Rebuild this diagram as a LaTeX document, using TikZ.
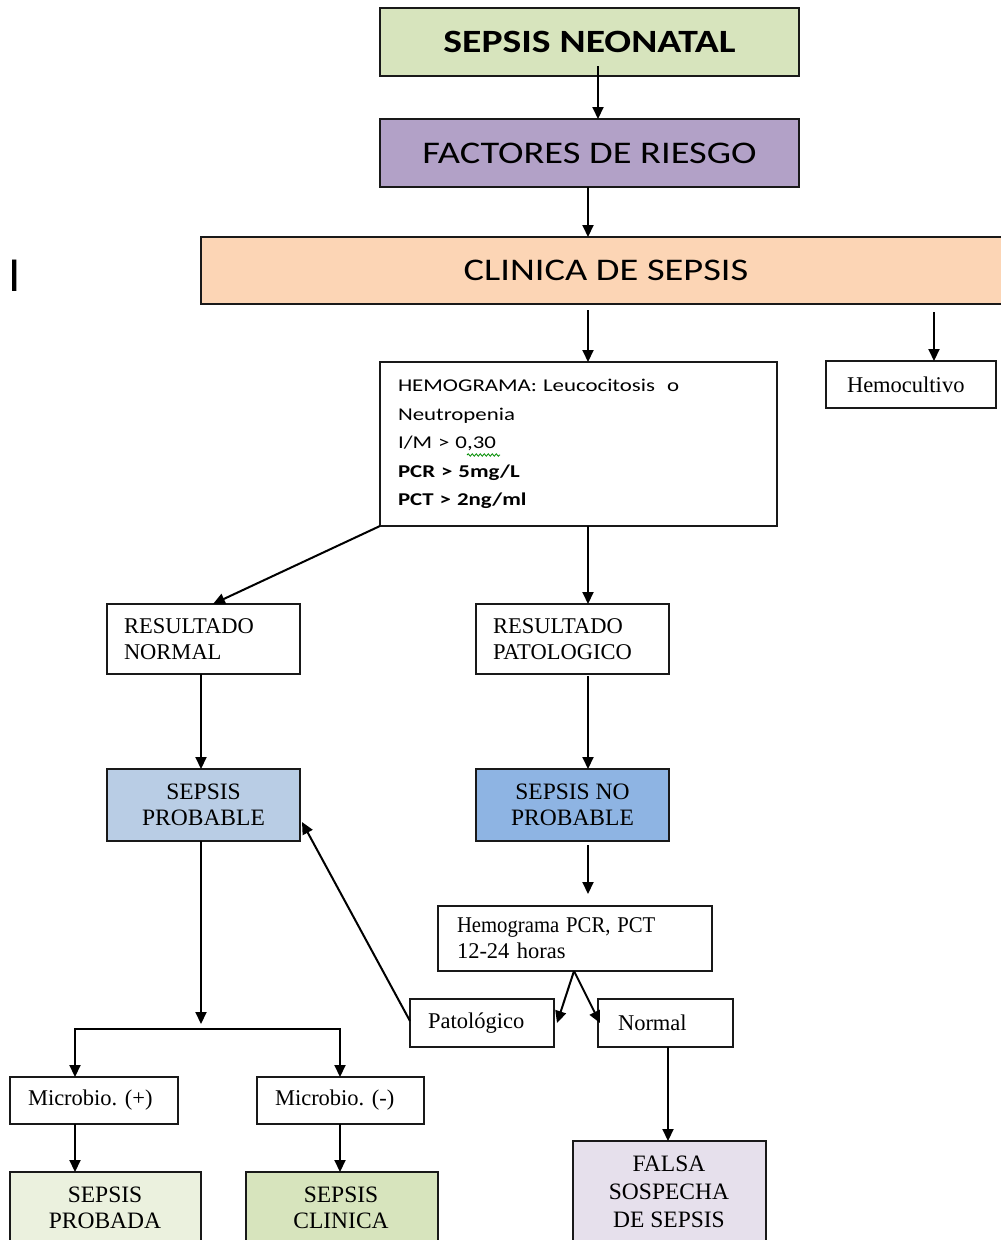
\documentclass[tikz,border=0pt]{standalone}
\usepackage{fontspec}
\setmainfont{Liberation Serif}
\newfontfamily\calA[FakeStretch=1.22]{Carlito}
\newfontfamily\calB[FakeStretch=1.27]{Carlito}
\newfontfamily\calC{Carlito}
\usetikzlibrary{arrows.meta,decorations.pathmorphing}
\definecolor{cneo}{HTML}{D7E4BD}
\definecolor{cfr}{HTML}{B2A1C7}
\definecolor{ccli}{HTML}{FCD5B5}
\definecolor{csp}{HTML}{B9CDE5}
\definecolor{csnp}{HTML}{8EB4E3}
\definecolor{cprob}{HTML}{EBF1DE}
\definecolor{cclin}{HTML}{D7E4BD}
\definecolor{cfal}{HTML}{E6E0EC}
\begin{document}
\begin{tikzpicture}[x=1pt,y=-1pt,
  box/.style={draw=black!90, line width=2pt, rectangle, inner sep=0pt, outer sep=0pt, anchor=north west},
  topbox/.style={box, font=\calA\fontsize{31.5}{36}\selectfont},
  sbox/.style={box, font=\fontsize{23.5}{26}\selectfont, align=center},
  lbox/.style={box, font=\fontsize{22.5}{26}\selectfont, align=left},
  ctext/.style={font=\fontsize{23.5}{26}\selectfont, align=center, anchor=north},
  conn/.style={line width=2pt, -{Triangle[length=12pt,width=11pt]}},
  conn2/.style={line width=2pt, {Triangle[length=12pt,width=11pt]}-{Triangle[length=12pt,width=11pt]}},
]
\useasboundingbox (0,0) rectangle (1001,1240);
\fill[white] (0,0) rectangle (1001,1240);

% top boxes
\node[topbox, fill=cneo, minimum width=419pt, minimum height=68pt] (neo) at (380,8) {\fontsize{32.5}{36}\selectfont\bfseries SEPSIS NEONATAL};
\node[topbox, fill=cfr, minimum width=419pt, minimum height=68pt] (fr) at (380,119) {FACTORES DE RIESGO};
\node[topbox, fill=ccli, minimum width=810pt, minimum height=67pt] (cli) at (201,237) {CLINICA DE SEPSIS};

% stray letter
\node[font=\calC\fontsize{49}{49}\selectfont, anchor=base, inner sep=0pt] (stray) at (15,291) {I};

% hemograma box
\node[box, minimum width=397pt, minimum height=164pt, text width=361pt, inner xsep=18pt, align=left,
  font=\calB\fontsize{18}{28.6}\selectfont] (hemo) at (380,362)
  {HEMOGRAMA: Leucocitosis\ \ o\\ Neutropenia\\ I/M > 0,30\\ \textbf{PCR > 5mg/L}\\ \textbf{PCT > 2ng/ml}};
\draw[green!55!black, line width=0.8pt, decorate, decoration={snake, amplitude=1.2pt, segment length=4pt}] (467,455) -- (500,455);

\node[lbox, minimum width=170pt, minimum height=47pt, text width=128pt, inner xsep=21pt] (hcult) at (826,361) {Hemocultivo};

\node[lbox, minimum width=193pt, minimum height=70pt, text width=159pt, inner xsep=17pt] (rn) at (107,604) {RESULTADO\\NORMAL};
\node[lbox, minimum width=193pt, minimum height=70pt, text width=159pt, inner xsep=17pt] (rp) at (476,604) {RESULTADO\\PATOLOGICO};

\node[sbox, fill=csp, minimum width=193pt, minimum height=72pt] (sp) at (107,769) {SEPSIS\\PROBABLE};
\node[sbox, fill=csnp, minimum width=193pt, minimum height=72pt] (snp) at (476,769) {SEPSIS NO\\PROBABLE};

\node[lbox, minimum width=274pt, minimum height=65pt, text width=236pt, inner xsep=19pt] (hpcr) at (438,906) {\scalebox{0.92}[1]{Hemograma PCR, PCT}\\12-24 horas};
\node[lbox, minimum width=144pt, minimum height=48pt, text width=108pt, inner xsep=18pt] (pat) at (410,999) {Patológico};
\node[lbox, minimum width=135pt, minimum height=48pt, text width=95pt, inner xsep=20pt] (nor) at (598,999) {Normal};

\node[lbox, minimum width=168pt, minimum height=47pt, text width=132pt, inner xsep=18pt] (mp) at (10,1077) {Microbio.\ (+)};
\node[lbox, minimum width=167pt, minimum height=47pt, text width=131pt, inner xsep=18pt] (mn) at (257,1077) {Microbio.\ (-)};

\node[box, fill=cprob, minimum width=191pt, minimum height=90pt] (prob) at (10,1172) {};
\node[ctext] (probt) at (105,1183) {SEPSIS\\PROBADA};
\node[box, fill=cclin, minimum width=192pt, minimum height=90pt] (clin) at (246,1172) {};
\node[ctext] (clint) at (341,1183) {SEPSIS\\CLINICA};
\node[box, fill=cfal, minimum width=193pt, minimum height=120pt] (fal) at (573,1141) {};
\node[ctext, font=\fontsize{23.5}{28}\selectfont] (falt) at (669,1152) {FALSA\\SOSPECHA\\DE SEPSIS};

% coordinates
\coordinate (x598) at (598,0);
\coordinate (x588) at (588,0);
\coordinate (x934) at (934,0);
\coordinate (x201) at (201,0);
\coordinate (x668) at (668,0);
\coordinate (x574) at (574,0);
\coordinate (s1) at (598,66);
\coordinate (jt) at (201,1024);
\coordinate (jl) at (75,1029);
\coordinate (jr) at (340,1029);

% connectors
\draw[conn] (s1) -- (fr.north -| x598);
\draw[conn] (fr.south -| x588) -- (cli.north -| x588);
\draw[conn] ([yshift=-6pt]cli.south -| x588) -- (hemo.north -| x588);
\draw[conn] ([yshift=-8pt]cli.south -| x934) -- (hcult.north -| x934);
\draw[conn] (hemo.south west) -- ([xshift=106pt]rn.north west);
\draw[conn] (hemo.south -| x588) -- (rp.north -| x588);
\draw[conn] (rn.south -| x201) -- (sp.north -| x201);
\draw[conn] ([yshift=-2pt]rp.south -| x588) -- (snp.north -| x588);
\draw[conn] (sp.south -| x201) -- (jt);
\draw[conn2] (mp.north -| jl) -- (jl) -- (jr) -- (mn.north -| jr);
\draw[conn] ([yshift=-4pt]snp.south -| x588) -- ([yshift=12pt]hpcr.north -| x588);
\draw[conn] (hpcr.south -| x574) -- ([xshift=3pt]pat.east);
\draw[conn] (hpcr.south -| x574) -- ([xshift=2pt]nor.west);
\draw[conn] ([yshift=2pt]pat.west) -- ([xshift=2pt,yshift=-17pt]sp.east);
\draw[conn] (nor.south -| x668) -- (fal.north -| x668);
\draw[conn] (mp.south -| jl) -- (prob.north -| jl);
\draw[conn] (mn.south -| jr) -- (clin.north -| jr);
\end{tikzpicture}
\end{document}
